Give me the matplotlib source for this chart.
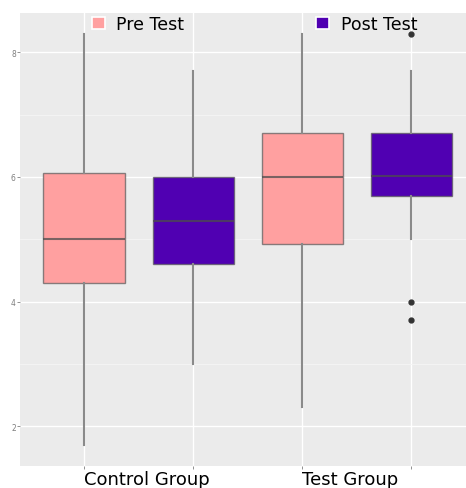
import matplotlib
matplotlib.use("Agg")
import matplotlib.pyplot as plt
from matplotlib.patches import Patch

# box statistics
groups = ["Control Group", "Test Group"]
series = ["Pre Test", "Post Test"]
whislo = [1.7, 3.0, 2.3, 5.0]
q1 = [4.3, 4.6, 4.93, 5.7]
med = [5.0, 5.3, 6.0, 6.02]
q3 = [6.07, 6.0, 6.7, 6.7]
whishi = [8.3, 7.7, 8.3, 7.7]
fliers = [[], [], [], [8.3, 4.0, 3.7]]
colors = ["#FFA0A0", "#5000B2"]

stats = []
for i in range(4):
    stats.append(dict(whislo=whislo[i], q1=q1[i], med=med[i], q3=q3[i],
                      whishi=whishi[i], fliers=fliers[i]))

fig = plt.figure(figsize=(4.66, 4.89), dpi=100)
ax = fig.add_axes([0.043, 0.045, 0.957, 0.926])
ax.set_facecolor("#EBEBEB")

pos = [0, 1, 2, 3]
bp = ax.bxp(stats, positions=pos, widths=0.75, patch_artist=True,
            showcaps=False,
            boxprops=dict(edgecolor=(0.35, 0.35, 0.35, 0.7), linewidth=1.0),
            medianprops=dict(color=(0.3, 0.3, 0.3, 0.75), linewidth=1.5),
            whiskerprops=dict(color="#8a8a8a", linewidth=1.5),
            flierprops=dict(marker="o", markersize=3.5, markerfacecolor="#333333",
                            markeredgecolor="#333333"))
for i, box in enumerate(bp["boxes"]):
    box.set_facecolor(colors[i % 2])
for art in bp["boxes"] + bp["medians"] + bp["whiskers"] + bp["fliers"]:
    art.set_zorder(3)

ax.set_xlim(-0.59, 3.5)
ax.set_ylim(1.36, 8.63)
ax.set_yticks([2, 4, 6, 8])
ax.set_yticks([3, 5, 7], minor=True)
ax.set_xticks(pos)
ax.set_xticklabels([groups[0], "", groups[1], ""], fontsize=13, ha="left")
ax.tick_params(axis="y", labelsize=5.5, labelcolor="#7f7f7f", color="#7f7f7f",
               length=2, width=0.6, pad=1)
ax.tick_params(axis="y", which="minor", length=0)
ax.tick_params(axis="x", length=2, width=0.6, color="#7f7f7f", pad=1)
ax.grid(True, which="major", color="white", linewidth=1.0, zorder=0)
ax.grid(True, which="minor", axis="y", color="#F5F5F5", linewidth=0.6, zorder=0)
ax.set_axisbelow(True)
for s in ax.spines.values():
    s.set_visible(False)

handles = [Patch(facecolor=colors[0], edgecolor="white", linewidth=1.2),
           Patch(facecolor=colors[1], edgecolor="white", linewidth=1.2)]
ax.legend(handles, series, ncol=2, loc="center", bbox_to_anchor=(0.526, 0.976),
          frameon=False, fontsize=12.5, handlelength=0.75, handleheight=0.75,
          handletextpad=0.65, columnspacing=7.6, borderaxespad=0)

fig.savefig("out.png", dpi=100)
